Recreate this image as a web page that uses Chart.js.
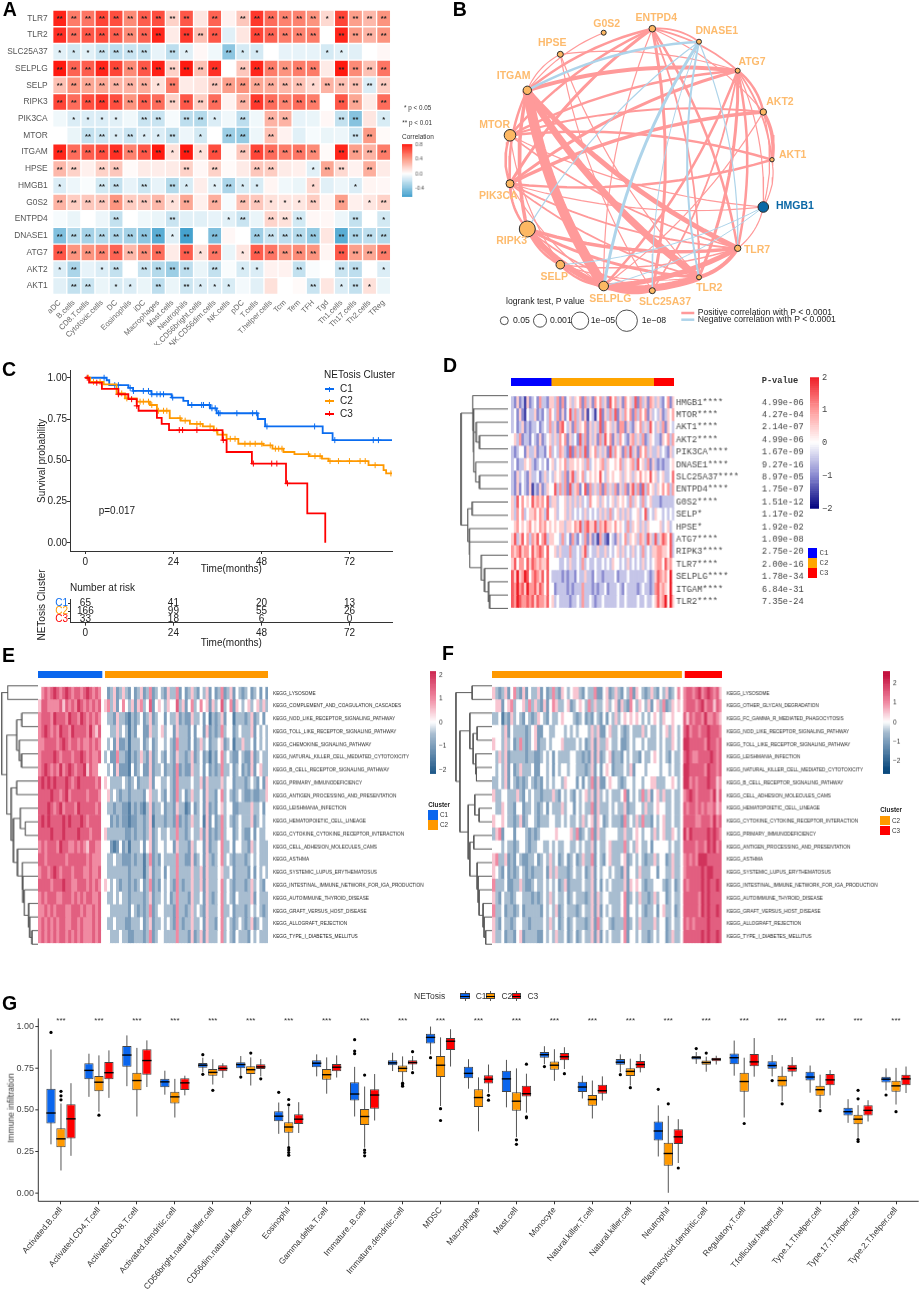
<!DOCTYPE html>
<html lang="en">
<head>
<meta charset="utf-8">
<script src="https://cdn.jsdelivr.net/npm/chart.js"></script>
<style>
  html, body { margin: 0; background: #fff; }
  #page { position: relative; width: 920px; height: 1293px; overflow: hidden; filter: blur(.3px); }
  #page canvas, #page div { position: absolute; }
  .t { white-space: nowrap; line-height: 1; font-family: "Liberation Sans", Arial, sans-serif; }
</style>
</head>
<body>
<div id="page"></div>
<script>
// Panel A: correlation values
const immuneCells = ['aDC','B.cells','CD8.T.cells','Cytotoxic.cells','DC','Eosinophils','iDC','Macrophages','Mast.cells','Neutrophils','NK.CD56bright.cells','NK.CD56dim.cells','NK.cells','pDC','T.cells','T.helper.cells','Tcm','Tem','TFH','Tgd','Th1.cells','Th17.cells','Th2.cells','TReg'];
const genesA = ['TLR7','TLR2','SLC25A37','SELPLG','SELP','RIPK3','PIK3CA','MTOR','ITGAM','HPSE','HMGB1','G0S2','ENTPD4','DNASE1','ATG7','AKT2','AKT1'];
const corrA = [
  [.78,.5,.52,.68,.65,.45,.6,.65,.18,.62,.1,.58,.05,.22,.72,.55,.48,.48,.42,.15,.68,.38,.28,.42],
  [.75,.55,.62,.65,.6,.45,.58,.78,.08,.72,.25,.62,-.1,.1,.68,.58,.5,.48,.5,0,.78,.4,.3,.42],
  [-.1,-.15,-.1,-.18,-.22,-.18,-.2,-.08,-.22,-.1,.03,-.05,-.38,-.14,-.14,0,-.08,-.08,-.08,-.14,-.1,-.1,0,.03],
  [.85,.58,.6,.78,.68,.45,.62,.8,.18,.82,.25,.75,0,.22,.78,.5,.42,.5,.5,.08,.82,.45,.25,.52],
  [.25,.42,.35,.35,.3,.3,.32,.12,.5,.08,.1,.22,.38,.42,.35,.32,.28,.25,.15,.3,.25,.25,-.12,.2],
  [.68,.55,.65,.72,.65,.42,.6,.55,.18,.62,.2,.55,.05,.3,.72,.55,.48,.55,.5,0,.62,.35,.08,.55],
  [-.05,-.12,-.12,-.12,-.1,-.05,-.18,-.18,-.03,-.22,-.25,-.12,-.05,-.22,-.05,.3,.3,-.08,-.07,.03,-.2,-.4,.1,-.13],
  [0,-.07,-.2,-.17,-.12,-.18,-.12,-.12,-.2,-.06,-.15,0,-.33,-.35,-.06,.25,.05,-.1,-.03,-.07,-.06,-.17,.4,.02],
  [.78,.55,.6,.65,.75,.48,.62,.82,.12,.88,.12,.65,.02,.22,.68,.55,.5,.52,.45,.02,.78,.38,.3,.5],
  [.28,.18,.06,.18,.22,.02,.08,.07,.08,.18,.03,.18,.02,.08,.22,.2,.08,.06,-.1,.35,.15,.05,.32,.08],
  [-.12,-.06,-.02,-.15,-.2,-.08,-.17,-.08,-.25,-.13,.07,-.1,-.28,-.13,-.13,.04,-.05,-.07,.15,-.1,-.06,-.12,.04,.03],
  [.3,.2,.22,.22,.42,.2,.22,.28,.12,.35,.06,.32,-.03,.25,.22,.12,.1,.1,.2,.04,.38,.06,.1,.18],
  [-.03,-.07,0,-.06,-.2,0,-.05,-.07,-.18,-.1,-.1,-.08,-.1,-.18,-.07,.17,.12,-.15,.03,.03,-.06,-.2,0,-.15],
  [-.42,-.25,-.3,-.25,-.28,-.3,-.38,-.55,-.1,-.62,0,-.42,.03,0,-.32,-.18,-.22,-.25,-.35,.1,-.55,-.28,-.22,-.25],
  [.62,.42,.42,.48,.58,.28,.45,.55,.08,.6,.12,.52,-.07,.1,.6,.52,.42,.45,.42,.04,.62,.38,.35,.5],
  [-.12,-.28,-.08,-.12,-.2,0,-.18,-.25,-.33,-.22,-.07,-.2,-.02,-.13,-.12,.05,.05,-.2,-.02,0,-.18,-.22,0,-.12],
  [-.1,-.2,-.18,-.07,-.13,-.12,-.07,-.22,-.07,-.17,-.12,-.12,-.13,-.04,-.1,.12,0,.02,-.18,.1,-.12,-.2,.12,-.07]
];
const starsA = ['222222222202022222212222','222222220222002222202222','111222202100211000011000','222222222222022222202222','222222212002222222122222','222222222222022222202202','011110220221020220002201','002212112010220200000220','222222221212022222202222','220220000202002200122020','100220202101211000100100','222222221202022111202012','000020002000120222000201','222222221202002222202222','222222220212012222202222','120120222202011002002201','022011020211100000201210'];

// Panel B: network, node positions and sizes (page pixels)
const nodeNames = ['G0S2','ENTPD4','DNASE1','ATG7','AKT2','AKT1','HMGB1','TLR7','TLR2','SLC25A37','SELPLG','SELP','RIPK3','PIK3CA','MTOR','ITGAM','HPSE'];
const nodeX = [603.7,652.3,699,737.7,763.3,772,763.3,737.7,699,652.3,603.7,560.3,527.3,510,510,527.3,560.3];
const nodeY = [32.7,28.7,41.7,70.7,112,159.7,207,248.3,277.3,290.7,286,264.7,229,183.7,135.3,90.3,54.3];
const nodeR = [2.5,3.3,2.5,2.5,3.2,2.2,5.3,3.2,2.5,3,4.8,4.3,8,4,5.8,4.2,3];
const nodeLabelX = [606.7,656.3,716.7,752,780,792.7,795,757,709.3,665,610.3,554.3,511.7,498.3,494.7,513.7,552.3];
const nodeLabelY = [27,21,34,65,105,158,209,253,291,305,302,280,244,199,128,79,46];
const posEdges = [['ITGAM','SELPLG',10],['ITGAM','TLR2',7],['ITGAM','TLR7',5],['RIPK3','SELPLG',6],['SELPLG','TLR2',7],['SELPLG','TLR7',5],['TLR2','TLR7',4],['RIPK3','TLR7',3.5],['RIPK3','TLR2',3],['ITGAM','RIPK3',3.5],['ITGAM','ATG7',4],['ITGAM','PIK3CA',2.5],['MTOR','PIK3CA',2.5],['PIK3CA','RIPK3',2.5],['PIK3CA','AKT2',3.5],['MTOR','AKT1',2.5],['MTOR','AKT2',2],['PIK3CA','ATG7',3],['PIK3CA','ENTPD4',3],['MTOR','ATG7',2.5],['MTOR','ENTPD4',2.5],['ITGAM','ENTPD4',2.5],['ITGAM','G0S2',1.2],['ITGAM','HPSE',1.2],['HPSE','ATG7',1.2],['HPSE','TLR2',1.2],['HPSE','SLC25A37',1.2],['ENTPD4','DNASE1',1.8],['ENTPD4','ATG7',1.8],['ENTPD4','AKT2',1.2],['ENTPD4','TLR7',2.5],['ENTPD4','SLC25A37',3],['ENTPD4','TLR2',1.8],['ENTPD4','SELPLG',1.2],['ATG7','AKT2',2.5],['ATG7','AKT1',1.8],['AKT2','AKT1',3.5],['AKT1','HMGB1',1.2],['AKT2','HMGB1',1.2],['ATG7','HMGB1',1.2],['ATG7','TLR7',2.5],['ATG7','TLR2',3],['ATG7','SELPLG',2.5],['ATG7','SLC25A37',1.8],['AKT2','SELPLG',1.2],['MTOR','HMGB1',1.2],['PIK3CA','HMGB1',1.2],['PIK3CA','AKT1',2.5],['MTOR','SELP',1.2],['MTOR','TLR7',1.8],['PIK3CA','TLR2',1.8],['PIK3CA','TLR7',1.8],['PIK3CA','SELPLG',1.2],['RIPK3','SELP',2.5],['SELP','SELPLG',2.5],['SELP','TLR7',1.5],['SELP','TLR2',1.2],['HMGB1','TLR7',1.2],['RIPK3','SLC25A37',1.8],['SELPLG','SLC25A37',2.5]];
const negEdges = [['ITGAM','DNASE1',2.5],['DNASE1','SELPLG',3,-1],['DNASE1','TLR2',2,-1],['DNASE1','TLR7',1.2],['DNASE1','RIPK3',1.2],['HMGB1','SELPLG',1],['HMGB1','SELP',1],['DNASE1','SLC25A37',1,-1]];
const logrankSizes = [4,6.5,8.7,10.7];
const logrankX = [504.3,540,580,626.7];
const logrankLabels = [['0.05',513],['0.001',550],['1e\u221205',590.7],['1e\u221208',641.7]];

// Panel C: survival steps, censor ticks and table at risk
const c1Time = [0,5.8,6.5,11.7,13,18,23.5,26.7,28,34,35.8,47,49,64.7,67.4,84];
const c1Surv = [1,.985,.955,.939,.92,.9,.88,.86,.835,.815,.785,.75,.705,.665,.622,.622];
const c2Time = [0,1.3,5,8.5,10.8,14,17.6,19.5,23,26,28.5,32,35,36,38.5,41.7,48.5,51,54,57,61,64.5,66.3,77.2,81.3,82,84];
const c2Surv = [1,.975,.96,.905,.875,.855,.835,.8,.755,.74,.72,.705,.68,.655,.63,.6,.59,.57,.55,.537,.525,.51,.495,.47,.44,.42,.42];
const c3Time = [0,1,4.5,9,11.7,14,14.5,19.5,20.8,22.8,37.4,38.5,45.4,54.7,60.5,65.4];
const c3Surv = [1,.97,.933,.9,.87,.83,.8,.757,.72,.683,.622,.55,.48,.36,.178,0];
const c1Censor = [5.1,8,9,12.2,13.1,15.8,17.2,18.1,19.5,20.4,21.3,23.8,29,31.7,32.2,33.8,34.5,35.4,36.3,36.7,41.3,45.6,46.7,49.5,62.5,68,78.5,79.9];
const c2Censor = [.8,2.2,4,9.9,11.3,14.9,15.8,17.2,18.1,19.9,21.3,22.2,25.8,27.2,30.4,31.3,34,35.8,37.6,39.5,40.8,43.5,44.9,46.3,48.1,50.4,51.8,52.7,53.6,60.8,62.6,64,66.7,69,72,74.9,76.3,79,83.3];
const c3Censor = [.5,3.1,9,12.6,14,25.6,26.5,30.4,37.6,45.8,50.8,52.2,55.1];
const riskTimes = [0,24,48,72];
const riskC1 = [65,41,20,13];
const riskC2 = [166,99,55,26];
const riskC3 = [33,18,6,0];
const clusters = ['C1','C2','C3'];

// Panel D. Stripe rows below are hand-estimated and coarser than the original
// sample columns: digit 0-8 stands for z-score -2..2, spaces only help counting.
const genesD = ['HMGB1****','MTOR****','AKT1****','AKT2****','PIK3CA****','DNASE1****','SLC25A37****','ENTPD4****','G0S2****','SELP*','HPSE*','ATG7****','RIPK3****','TLR7****','SELPLG****','ITGAM****','TLR2****'];
const pValuesD = ['4.99e-06','4.27e-04','2.14e-07','4.99e-06','1.67e-09','9.27e-16','8.97e-05','1.75e-07','1.51e-12','1.17e-02','1.92e-02','1.09e-08','2.75e-20','2.00e-16','1.78e-34','6.84e-31','7.35e-24'];
const rowsD = [
  '3252 3152 3426 3325 5362 6245 3546 2635 2646 3527 4635 2645 3726 3526 5 3532 4625',
  '3425 2143 3523 2436 4362 5247 3635 2514 3147 2536 3725 3646 2636 4625 3 4352 3546',
  '3423 5232 3342 3436 3526 7435 2635 4625 3537 2645 3526 6253 2546 3537 4 3536 2543',
  '4536 2332 4325 2345 3536 4625 3427 3625 3526 3746 2536 4325 6353 6235 4 3325 4636',
  '3234 4253 3523 3246 3436 5327 2636 3725 4635 3527 3645 2637 3526 4635 3 3534 3253',
  '3423 3545 3234 3424 5345 4635 5454 5363 4545 6354 4546 3545 6374 5362 5 3232 3345',
  '3253 4325 3342 3534 3545 3625 7354 6345 4547 4354 5445 3545 3546 4547 4 5345 3347',
  '3252 4325 1325 2354 4736 3627 3562 4726 3536 2635 3625 3625 7362 7364 5 3546 4636',
  '5374 6454 7565 6473 5534 4535 3535 3436 4453 5434 5354 5436 3543 6345 3 3323 3333',
  '5364 6345 5646 5374 4534 4535 3434 3534 3435 3536 3453 5353 4453 4734 3 5443 4343',
  '4564 5456 4546 5645 4545 5355 4657 3675 5736 5755 4645 4363 5453 5354 4 4453 4534',
  '5735 7463 6574 6735 5443 6342 6324 3625 2316 3214 3253 4635 4536 5375 3 7357 6473',
  '6567 5664 7567 6474 4535 3336 3343 5734 3353 3534 3453 5343 5343 6343 5 5665 5473',
  '5746 6475 7656 5574 4443 3435 3343 6343 3433 4343 5443 4353 4343 5343 4 5664 7564',
  '7585 6874 6765 7474 3333 2323 3243 3533 2433 2333 3423 3343 3333 3432 3 5765 6484',
  '7686 7586 6757 6474 4233 3323 2333 6333 2323 3423 3343 2433 3323 4332 3 6756 5484',
  '7687 6676 7576 6574 5343 3332 3343 6334 3233 4333 3343 3433 3343 3433 4 5756 8485'
];
const clusterSizesD = [65,166,33];
const treeD = [140,[105,0,[103,1,[102,[95,2,[85,3,4]],[96,5,[85,6,7]]]]],[120,[107,8,9],[115,10,[114,11,[80,12,[70,13,[58,14,[55,15,16]]]]]]]];

// Panel E
const pathwaysE = ['KEGG_LYSOSOME','KEGG_COMPLEMENT_AND_COAGULATION_CASCADES','KEGG_NOD_LIKE_RECEPTOR_SIGNALING_PATHWAY','KEGG_TOLL_LIKE_RECEPTOR_SIGNALING_PATHWAY','KEGG_CHEMOKINE_SIGNALING_PATHWAY','KEGG_NATURAL_KILLER_CELL_MEDIATED_CYTOTOXICITY','KEGG_B_CELL_RECEPTOR_SIGNALING_PATHWAY','KEGG_PRIMARY_IMMUNODEFICIENCY','KEGG_ANTIGEN_PROCESSING_AND_PRESENTATION','KEGG_LEISHMANIA_INFECTION','KEGG_HEMATOPOIETIC_CELL_LINEAGE','KEGG_CYTOKINE_CYTOKINE_RECEPTOR_INTERACTION','KEGG_CELL_ADHESION_MOLECULES_CAMS','KEGG_ASTHMA','KEGG_SYSTEMIC_LUPUS_ERYTHEMATOSUS','KEGG_INTESTINAL_IMMUNE_NETWORK_FOR_IGA_PRODUCTION','KEGG_AUTOIMMUNE_THYROID_DISEASE','KEGG_GRAFT_VERSUS_HOST_DISEASE','KEGG_ALLOGRAFT_REJECTION','KEGG_TYPE_I_DIABETES_MELLITUS'];
const rowsE = [
  '467 678 767 876 776 787 676|42352 35324 23523 62343 25336 24235 32435 24236 23524 32342 34242',
  '577 666 675 767 687 676 767|56352 46435 25634 72454 35447 35246 34645 25347 34625 43453 45353',
  '677 768 777 687 768 767 676|43325 33213 23423 52344 24335 23225 33424 13235 24413 33235 23424',
  '678 767 687 768 777 768 657|44335 34313 24422 53345 34425 33324 24425 23236 34423 43335 24343',
  '667 777 678 767 767 667 676|43425 22313 33423 42344 34326 33324 23534 23345 23413 35334 24343',
  '677 778 767 776 778 767 667|34226 33213 23532 52343 24325 33235 23423 13246 34322 43225 23433',
  '678 767 686 787 677 857 664|43425 22214 23422 52334 23326 23225 33424 23236 33423 42325 24533',
  '787 878 777 876 787 777 767|54333 34323 42333 52443 34326 33334 33525 33335 34423 33234 32425',
  '777 787 767 867 777 767 776|45343 23323 33324 53343 24326 34235 33425 33246 34323 43223 22335',
  '777 876 786 777 687 777 767|43323 32213 23213 52334 23325 33124 23425 23245 34422 33335 33424',
  '787 877 778 787 778 767 777|44232 32212 23323 51333 23326 23235 33415 24236 34323 43335 23434',
  '777 787 778 777 787 776 777|53333 33223 23323 52343 34336 33234 33525 23236 34423 43224 24334',
  '676 777 687 766 767 657 766|44212 42313 33424 52344 34425 33325 34425 23346 33424 43325 34333',
  '776 777 777 677 777 767 666|43343 32223 23313 62324 33336 33225 23425 32346 34323 33234 34333',
  '677 678 767 776 777 667 667|43333 33323 33313 52334 24336 33335 33525 33345 33423 33324 24343',
  '777 767 778 776 677 767 676|54343 23323 23423 62324 34326 32335 33525 33346 34323 33235 34324',
  '676 777 667 776 767 677 667|43343 43323 33323 52334 34236 33325 33425 32346 34324 33335 24333',
  '667 676 777 667 776 766 767|44333 33324 32323 62344 33326 33235 34325 33346 33423 33234 34323',
  '676 767 677 667 767 666 767|43343 33223 33423 52334 34326 32335 33425 33246 34323 43235 23433',
  '676 767 677 676 767 666 767|44333 43322 33323 62344 33336 33325 23525 33346 34324 33324 34333'
];
const clusterSizesE = [65,166];
const treeE = [108,[90,0,1],[93,[63,[48,2,3],[56,4,[49,5,6]]],[80,[63,7,8],[73,[53,9,[38,10,11]],[61,12,[47,13,[45,14,[41,15,[28,16,[25,17,[18,18,19]]]]]]]]]]];

// Panel F
const pathwaysF = ['KEGG_LYSOSOME','KEGG_OTHER_GLYCAN_DEGRADATION','KEGG_FC_GAMMA_R_MEDIATED_PHAGOCYTOSIS','KEGG_NOD_LIKE_RECEPTOR_SIGNALING_PATHWAY','KEGG_TOLL_LIKE_RECEPTOR_SIGNALING_PATHWAY','KEGG_LEISHMANIA_INFECTION','KEGG_NATURAL_KILLER_CELL_MEDIATED_CYTOTOXICITY','KEGG_B_CELL_RECEPTOR_SIGNALING_PATHWAY','KEGG_CELL_ADHESION_MOLECULES_CAMS','KEGG_HEMATOPOIETIC_CELL_LINEAGE','KEGG_CYTOKINE_CYTOKINE_RECEPTOR_INTERACTION','KEGG_PRIMARY_IMMUNODEFICIENCY','KEGG_ANTIGEN_PROCESSING_AND_PRESENTATION','KEGG_ASTHMA','KEGG_SYSTEMIC_LUPUS_ERYTHEMATOSUS','KEGG_INTESTINAL_IMMUNE_NETWORK_FOR_IGA_PRODUCTION','KEGG_AUTOIMMUNE_THYROID_DISEASE','KEGG_GRAFT_VERSUS_HOST_DISEASE','KEGG_ALLOGRAFT_REJECTION','KEGG_TYPE_I_DIABETES_MELLITUS'];
const rowsF = [
  '532352463 252433524 236325434 553243362 245235324 362543235 324352346|6776 7867 87675',
  '455245634 453635325 246533452 345436353 345345253 264354352 453623545|6777 6786 77576',
  '334132534 324323543 243345444 323423243 242435345 454543434 543544544|7576 7768 66765',
  '444352433 332345224 433444343 434443535 224533432 343335343 343453543|7867 7677 87776',
  '544353423 632345233 434445333 343423525 335433422 343443433 343433543|8877 7776 87767',
  '435352333 332332234 342433334 433232525 234523324 343324334 543432433|7876 6777 78767',
  '434352423 533342244 342434434 433323524 245423334 352444344 443443433|8877 7776 87767',
  '334352432 323432324 343443544 424243625 224544323 443443445 533344543|8867 6777 87756',
  '533443335 324343323 335324343 243453525 343433346 243436352 453533433|6787 6777 76857',
  '433543324 423343234 243335344 243433625 333434335 233443533 454433433|7677 6767 66756',
  '544543323 523443233 344334343 343534525 423433326 343536332 434533433|7777 6677 76867',
  '356244424 443232344 444544445 362343625 334444335 334543443 534533543|8687 7777 87876',
  '444343323 443233443 343433443 343433524 334533336 343543342 444443433|7777 6776 87867',
  '563352324 322334234 353423423 423533624 324533345 234343233 534423533|6767 6888 77777',
  '543242323 432323334 253533323 433423524 344343325 244353334 424433533|6777 7787 88777',
  '633342233 532234334 343423523 333433524 243433335 254543233 444323423|7677 7787 87787',
  '532433234 433323234 353433423 433323525 344333346 234353323 534423433|7777 7687 87777',
  '633423323 423333324 343523433 323433525 243433346 244343233 424533423|7777 7687 87787',
  '532433234 433233334 353423423 433323526 344323336 234353333 534423433|7676 7777 87777',
  '533423324 523333224 343533423 423433525 243433346 244343323 434423533|7777 7787 87787'
];
const clusterSizesF = [166,33];
const treeF = [109,[60,0,1],[97,[67,2,[57,[45,3,4],[49,5,[47,6,7]]]],[72,[52,8,[39,9,10]],[67,[55,11,12],[45,13,[42,14,[39,15,[27,16,[24,17,[19,18,19]]]]]]]]]];

// Panel G: boxes as [low whisker, q1, median, q3, high whisker]
const immuneSets = ['Activated.B.cell','Activated.CD4.T.cell','Activated.CD8.T.cell','Activated.dendritic.cell','CD56bright.natural.killer.cell','CD56dim.natural.killer.cell','Eosinophil','Gamma.delta.T.cell','Immature..B.cell','Immature.dendritic.cell','MDSC','Macrophage','Mast.cell','Monocyte','Natural.killer.T.cell','Natural.killer.cell','Neutrophil','Plasmacytoid.dendritic.cell','Regulatory.T.cell','T.follicular.helper.cell','Type.1.T.helper.cell','Type.17.T.helper.cell','Type.2.T.helper.cell'];
const boxC1 = [[.293,.418,.481,.627,.862],[.578,.684,.737,.78,.837],[.642,.758,.829,.884,.947],[.591,.635,.668,.686,.735],[.725,.752,.768,.782,.813],[.705,.75,.772,.786,.823],[.356,.432,.462,.491,.544],[.701,.756,.78,.798,.833],[.46,.556,.595,.666,.758],[.733,.768,.782,.798,.843],[.833,.898,.935,.957,1],[.627,.69,.719,.758,.804],[.515,.607,.686,.735,.8],[.774,.813,.831,.847,.882],[.568,.607,.637,.668,.705],[.725,.77,.786,.805,.833],[.22,.316,.373,.43,.527],[.776,.802,.813,.823,.847],[.705,.774,.813,.839,.916],[.701,.747,.766,.792,.829],[.603,.676,.697,.729,.766],[.422,.466,.489,.513,.564],[.617,.664,.684,.699,.749]];
const boxC2 = [[.136,.275,.326,.389,.538],[.489,.611,.666,.703,.827],[.46,.617,.676,.723,.872],[.454,.538,.578,.609,.686],[.652,.705,.725,.745,.804],[.646,.715,.741,.762,.815],[.283,.363,.397,.426,.519],[.597,.68,.711,.745,.815],[.273,.409,.46,.505,.64],[.67,.725,.749,.766,.821],[.523,.697,.768,.823,.935],[.371,.517,.574,.623,.695],[.336,.495,.552,.605,.749],[.674,.741,.768,.79,.864],[.448,.525,.562,.589,.676],[.646,.703,.731,.75,.807],[.002,.165,.238,.303,.464],[.729,.77,.784,.796,.819],[.454,.609,.67,.723,.813],[.552,.64,.676,.705,.76],[.509,.585,.621,.644,.711],[.332,.413,.444,.47,.528],[.532,.609,.644,.674,.752]];
const boxC3 = [[.224,.328,.446,.534,.66],[.572,.684,.723,.788,.857],[.637,.711,.796,.864,.917],[.587,.619,.662,.69,.705],[.692,.731,.749,.768,.78],[.701,.745,.758,.774,.805],[.361,.415,.444,.473,.546],[.694,.731,.756,.776,.827],[.436,.507,.589,.623,.715],[.739,.772,.784,.798,.823],[.76,.859,.912,.931,.984],[.603,.658,.684,.707,.772],[.483,.58,.597,.644,.717],[.745,.798,.819,.841,.876],[.556,.597,.615,.65,.701],[.725,.75,.772,.794,.835],[.181,.295,.338,.383,.444],[.772,.792,.804,.813,.825],[.699,.762,.788,.835,.931],[.701,.729,.749,.77,.817],[.587,.648,.68,.715,.739],[.43,.466,.497,.527,.558],[.601,.648,.686,.711,.76]];
const outC1 = [[.965],[],[],[],[.831,.713],[.697],[.605],[],[.921,.853,.837],[],[.813],[],[],[.76],[],[.711],[.623],[.868],[],[.676],[],[],[.589]];
const outC2 = [[.611,.584,.56],[.468],[],[],[.617],[.841],[.562,.53,.273,.259,.244,.228],[],[.709,.259,.244,.224],[.66,.65,.642],[.507,.436],[],[.32,.293],[],[],[.633],[.536],[.841],[.418],[.536],[.495],[.617,.566,.322,.31],[.489]];
const outC3 = [[],[],[],[],[],[.686],[],[],[],[.849,.723],[],[.587,.558],[.774,.458,.452],[.717],[],[],[.151],[],[],[],[],[],[]];

// ---------- helpers ----------
const FONT = '"Liberation Sans", Arial, sans-serif';
const MONO = '"Liberation Mono", monospace';
Chart.defaults.animation = false;
Chart.defaults.responsive = false;
Chart.defaults.font.family = FONT;
Chart.defaults.layout.autoPadding = false;
Chart.defaults.plugins.legend.display = false;
Chart.defaults.plugins.tooltip.enabled = false;

const page = document.getElementById('page');

function mk(left, top, w, h) {
  const c = document.createElement('canvas');
  c.width = w; c.height = h;
  c.style.left = left + 'px'; c.style.top = top + 'px';
  c.style.width = w + 'px'; c.style.height = h + 'px';
  page.appendChild(c);
  return c.getContext('2d');
}
function txt(s, x, y, size, o) {
  o = o || {};
  const d = document.createElement('div');
  d.className = 't';
  d.textContent = s;
  d.style.left = x + 'px';
  d.style.top = (y - size * 0.85) + 'px';
  d.style.fontSize = size + 'px';
  d.style.color = o.color || '#333';
  if (o.bold) d.style.fontWeight = 'bold';
  if (o.font) d.style.fontFamily = o.font;
  if (o.center) d.style.transform = 'translateX(-50%)';
  if (o.vertical) d.style.transform = 'translate(-50%,-50%) rotate(-90deg)', d.style.top = y + 'px';
  page.appendChild(d);
}
function box(x, y, w, h, color) {
  const d = document.createElement('div');
  d.style.cssText = 'left:' + x + 'px;top:' + y + 'px;width:' + w + 'px;height:' + h + 'px;background:' + color;
  page.appendChild(d);
  return d;
}
function hex(c) { return [parseInt(c.slice(1,3),16), parseInt(c.slice(3,5),16), parseInt(c.slice(5,7),16)]; }
function ramp(stops) {
  return function (v) {
    if (v <= stops[0][0]) return stops[0][1];
    for (let i = 1; i < stops.length; i++) {
      if (v <= stops[i][0]) {
        const t = (v - stops[i-1][0]) / (stops[i][0] - stops[i-1][0]);
        const a = hex(stops[i-1][1]), b = hex(stops[i][1]);
        return 'rgb(' + a.map((x, k) => Math.round(x + (b[k] - x) * t)).join(',') + ')';
      }
    }
    return stops[stops.length-1][1];
  };
}
const rampA = ramp([[-.62,'#45A2CE'],[0,'#ffffff'],[.4,'#FC9A85'],[.82,'#FF1A10']]);
const rampD = ramp([[-2,'#00007F'],[-1,'#8A8AD0'],[0,'#ffffff'],[1,'#FF9A9A'],[2,'#EE1C25']]);
const rampE = ramp([[-2.4,'#0B4A7E'],[-1,'#7C9DBB'],[-.5,'#A8BDD0'],[0,'#ffffff'],[1,'#F08AA2'],[1.5,'#E25F80'],[2.4,'#C4123F']]);

function fixedTicks(vals) { return s => { s.ticks = vals.map(v => ({ value: v })); }; }
function parseRow(r) {
  return r.replace(/ /g, '').split('').map(ch => ch === '|' ? null : (+ch - 4) / 2);
}
const noGrid = { display: false, drawTicks: false };

// heat map: stacked horizontal bars, one dataset per column
function heat(o) {
  const m = o.matrix;
  const ncol = m[0].length;
  const datasets = [];
  for (let j = 0; j < ncol; j++) {
    datasets.push({
      data: m.map(() => 1),
      backgroundColor: m.map(r => r[j] === null || r[j] === undefined ? '#fff' : o.color(r[j])),
      borderColor: '#fff',
      borderWidth: o.cellBorder || 0,
      borderSkipped: false,
      categoryPercentage: 1,
      barPercentage: 1
    });
  }
  const scales = {
    x: Object.assign({ stacked: true, min: 0, max: ncol, display: false }, o.x || {}),
    y: Object.assign({
      stacked: true,
      position: 'right',
      grid: noGrid,
      border: { display: false },
      afterFit: s => { s.width = o.yWidth; },
      ticks: { autoSkip: false, padding: 2, font: o.font, color: o.tickColor || '#222' }
    }, o.y || {})
  };
  if (o.y2) scales.y2 = o.y2;
  return new Chart(mk(o.left, o.top, o.w, o.h), {
    type: 'bar',
    data: { labels: o.labels, datasets: datasets },
    options: { indexAxis: 'y', layout: { padding: o.padding || 0 }, scales: scales },
    plugins: o.plugins || []
  });
}

// dendrogram: tree node = [height, child, child], a leaf is a row index
function dendro(left, top, w, h, tree, nrow, maxH) {
  const sets = [];
  (function walk(n) {
    if (typeof n === 'number') return { y: n, h: 0 };
    const a = walk(n[1]), b = walk(n[2]);
    sets.push({
      data: [{ x: a.h, y: a.y }, { x: n[0], y: a.y }, { x: n[0], y: b.y }, { x: b.h, y: b.y }],
      showLine: true, borderColor: '#5a5a5a', borderWidth: 1, pointRadius: 0
    });
    return { y: (a.y + b.y) / 2, h: n[0] };
  })(tree);
  new Chart(mk(left, top, w, h), {
    type: 'scatter',
    data: { datasets: sets },
    options: { scales: {
      x: { display: false, reverse: true, min: 0, max: maxH },
      y: { display: false, reverse: true, min: -.5, max: nrow - .5 }
    } }
  });
}

// annotation strip above a heat map
function annoBar(left, top, w, h, sizes, colors, gap) {
  const sets = [];
  sizes.forEach((s, i) => {
    if (i && gap) sets.push({ data: [gap], backgroundColor: '#fff', categoryPercentage: 1, barPercentage: 1 });
    sets.push({ data: [s], backgroundColor: colors[i], categoryPercentage: 1, barPercentage: 1 });
  });
  const total = sizes.reduce((a, b) => a + b, 0) + (gap ? gap * (sizes.length - 1) : 0);
  new Chart(mk(left, top, w, h), {
    type: 'bar',
    data: { labels: [''], datasets: sets },
    options: { indexAxis: 'y', scales: {
      x: { stacked: true, display: false, min: 0, max: total },
      y: { stacked: true, display: false }
    } }
  });
}

// vertical colour key with a real axis on its right
function colorBar(left, top, w, h, lo, hi, ticks, color, font, fg, fmt) {
  const sets = [];
  const n = 60, st = (hi - lo) / n;
  for (let i = 0; i < n; i++) {
    sets.push({ data: [[lo + i * st, lo + (i + 1) * st]], backgroundColor: color(lo + (i + .5) * st), categoryPercentage: 1, barPercentage: 1 });
  }
  new Chart(mk(left, top - 8, w + 30, h + 16), {
    type: 'bar',
    data: { labels: [''], datasets: sets },
    options: {
      layout: { padding: { top: 8, bottom: 8 } },
      scales: {
        x: { stacked: true, display: false },
        y: {
          position: 'right', min: lo, max: hi,
          grid: noGrid, border: { display: false },
          afterBuildTicks: fixedTicks(ticks),
          afterFit: s => { s.width = 30; },
          ticks: { padding: 3, font: font, color: fg, callback: fmt }
        }
      }
    }
  });
}
const minusFmt = v => v < 0 ? '\u2212' + (-v) : '' + v;

// ---------- panel letters ----------
[['A',2.7,17],['B',452.7,17],['C',2,377],['D',443,373],['E',2,662.7],['F',442,660.7],['G',2,1010.7]].forEach(p => {
  txt(p[0], p[1], p[2], 19.5, { bold: true, color: '#000' });
});

// ---------- A ----------
const starsPlugin = {
  id: 'stars',
  afterDatasetsDraw(chart) {
    const ctx = chart.ctx;
    ctx.save();
    ctx.font = 'bold 7.5px ' + FONT;
    ctx.fillStyle = '#222';
    ctx.textAlign = 'center';
    ctx.textBaseline = 'middle';
    chart.data.datasets.forEach((ds, j) => {
      chart.getDatasetMeta(j).data.forEach((bar, i) => {
        const n = +starsA[i][j];
        if (n) ctx.fillText('*'.repeat(n), (bar.base + bar.x) / 2, bar.y + 1);
      });
    });
    ctx.restore();
  }
};
heat({
  left: 0, top: 0, w: 396, h: 345,
  matrix: corrA, color: rampA, labels: genesA, cellBorder: 1,
  yWidth: 52.7,
  padding: { top: 8.3, right: 5.3 },
  font: { size: 8.4 }, tickColor: '#555',
  x: {
    display: true,
    grid: noGrid, border: { display: false },
    afterBuildTicks: fixedTicks(immuneCells.map((c, i) => i + .5)),
    afterFit: s => { s.height = 50.7; },
    ticks: { autoSkip: false, minRotation: 45, maxRotation: 45, padding: 4, font: { size: 7.7 }, color: '#666', callback: v => immuneCells[v - .5] }
  },
  y: { position: 'left', ticks: { autoSkip: false, padding: 5, font: { size: 8.4 }, color: '#555' } },
  plugins: [starsPlugin]
});
txt('* p < 0.05', 404, 110.7, 6.3);
txt('** p < 0.01', 402.3, 125, 6.3);
txt('Correlation', 402, 139.7, 6.5);
colorBar(402.3, 144.3, 10.7, 52.7, -.62, .81, [-.4, 0, .4, .8], rampA, { size: 5 }, '#444', v => v.toFixed(1));

// ---------- B ----------
const cx = 641, cy = 160;
function edgePoints(a, b, flip) {
  const i = nodeNames.indexOf(a), j = nodeNames.indexOf(b);
  const x1 = nodeX[i], y1 = nodeY[i], x2 = nodeX[j], y2 = nodeY[j];
  const len = Math.hypot(x2 - x1, y2 - y1);
  let nx = -(y2 - y1) / len, ny = (x2 - x1) / len;
  const mx = (x1 + x2) / 2, my = (y1 + y2) / 2;
  if ((mx - cx) * nx + (my - cy) * ny < 0) { nx = -nx; ny = -ny; }
  if (flip) { nx = -nx; ny = -ny; }
  const off = 2 * (.04 * len + 2.5);
  const pts = [];
  for (let k = 0; k <= 14; k++) {
    const t = k / 14, u = 1 - t;
    pts.push({
      x: u * u * x1 + 2 * u * t * (mx + nx * off) + t * t * x2,
      y: u * u * y1 + 2 * u * t * (my + ny * off) + t * t * y2
    });
  }
  return pts;
}
const netSets = [{
  data: nodeX.map((x, i) => ({ x: x, y: nodeY[i] })),
  pointRadius: nodeR,
  backgroundColor: nodeNames.map(n => n === 'HMGB1' ? '#0A68A6' : '#FDB863'),
  borderColor: '#2a2a2a', borderWidth: 1
}, {
  data: logrankX.map(x => ({ x: x, y: 320.7 })),
  pointRadius: logrankSizes,
  backgroundColor: '#fff', borderColor: '#222', borderWidth: .8
}, {
  data: [{ x: 681.3, y: 313 }, { x: 694.3, y: 313 }], showLine: true, pointRadius: 0, borderColor: '#FF9A9A', borderWidth: 2.5
}, {
  data: [{ x: 681.3, y: 319.7 }, { x: 694.3, y: 319.7 }], showLine: true, pointRadius: 0, borderColor: '#AED4EA', borderWidth: 2.5
}];
negEdges.forEach(e => netSets.push({ data: edgePoints(e[0], e[1], e[3] === -1), showLine: true, pointRadius: 0, borderColor: '#AED4EA', borderWidth: e[2] }));
posEdges.forEach(e => netSets.push({ data: edgePoints(e[0], e[1], e[3] === -1), showLine: true, pointRadius: 0, borderColor: '#FF9A9A', borderWidth: e[2] }));
new Chart(mk(450, 0, 470, 340), {
  type: 'scatter',
  data: { datasets: netSets },
  options: { scales: {
    x: { display: false, min: 450, max: 920 },
    y: { display: false, min: 0, max: 340, reverse: true }
  } }
});
nodeNames.forEach((n, i) => {
  txt(n, nodeLabelX[i], nodeLabelY[i], 10.5, { bold: true, center: true, color: n === 'HMGB1' ? '#0A68A6' : '#FDBB6E' });
});
txt('logrank test, P value', 506, 304.3, 8.7, { color: '#222' });
logrankLabels.forEach(l => txt(l[0], l[1], 323.3, 8.7, { color: '#222' }));
txt('Positive correlation with P < 0.0001', 697.7, 315, 8.6, { color: '#222' });
txt('Negative correlation with P < 0.0001', 697.7, 322, 8.6, { color: '#222' });

// ---------- C ----------
const kmColors = ['#0A6CF0', '#FF9900', '#FF0000'];
function survAt(times, surv, t) {
  let s = surv[0];
  for (let i = 0; i < times.length; i++) { if (times[i] <= t) s = surv[i]; }
  return s;
}
function kmLine(times, surv, color) {
  return { data: times.map((t, i) => ({ x: t, y: surv[i] })), showLine: true, stepped: true, borderColor: color, borderWidth: 1.8, pointRadius: 0 };
}
function kmMarks(times, surv, censor, color) {
  return { data: censor.map(t => ({ x: t, y: survAt(times, surv, t) })), pointStyle: 'cross', pointRadius: 3, borderColor: color, borderWidth: 1 };
}
const kmAxis = {
  min: -4.2, max: 83.6,
  grid: { drawOnChartArea: false, tickLength: 3, color: '#333' },
  border: { color: '#333' },
  afterBuildTicks: fixedTicks(riskTimes),
  ticks: { padding: 2, font: { size: 10 }, color: '#222' }
};
new Chart(mk(0, 360, 400, 230), {
  type: 'scatter',
  data: { datasets: [
    kmMarks(c3Time, c3Surv, c3Censor, kmColors[2]), kmLine(c3Time, c3Surv, kmColors[2]),
    kmMarks(c2Time, c2Surv, c2Censor, kmColors[1]), kmLine(c2Time, c2Surv, kmColors[1]),
    kmMarks(c1Time, c1Surv, c1Censor, kmColors[0]), kmLine(c1Time, c1Surv, kmColors[0])
  ] },
  options: {
    layout: { padding: { top: 10, right: 8 } },
    scales: {
      x: Object.assign({}, kmAxis, { afterFit: s => { s.height = 39; } }),
      y: {
        min: -.05, max: 1.047,
        grid: { drawOnChartArea: false, tickLength: 3, color: '#333' },
        border: { color: '#333' },
        afterBuildTicks: fixedTicks([0, .25, .5, .75, 1]),
        afterFit: s => { s.width = 70; },
        ticks: { padding: 0, font: { size: 10 }, color: '#222', callback: v => v.toFixed(2) }
      }
    }
  }
});
txt('Survival probability', 41.7, 460.7, 10, { vertical: true, color: '#222' });
txt('Time(months)', 231.3, 572.3, 10, { center: true, color: '#222' });
txt('p=0.017', 98.7, 514.3, 10, { color: '#222' });
txt('NETosis Cluster', 324, 378.3, 10, { color: '#222' });
kmColors.forEach((c, i) => {
  const y = 389 + i * 12.4;
  box(325, y - 1, 9.3, 2, c);
  box(329, y - 2.5, 1.2, 5, c);
  txt(clusters[i], 340, y + 3.5, 10, { color: '#222' });
});
// number at risk table
const riskPlugin = {
  id: 'risk',
  afterDatasetsDraw(chart) {
    const ctx = chart.ctx;
    ctx.save();
    ctx.font = '10px ' + FONT;
    ctx.fillStyle = '#222';
    ctx.textAlign = 'center';
    ctx.textBaseline = 'middle';
    [riskC1, riskC2, riskC3].forEach((vals, k) => {
      chart.getDatasetMeta(k).data.forEach((pt, i) => ctx.fillText(vals[i], pt.x, pt.y));
    });
    ctx.restore();
  }
};
new Chart(mk(0, 592, 400, 44), {
  type: 'scatter',
  data: { datasets: [riskC1, riskC2, riskC3].map((vals, k) => ({
    data: riskTimes.map(t => ({ x: t, y: clusters[k] })), pointRadius: 0
  })) },
  options: {
    layout: { padding: { top: 7.4, right: 8 } },
    scales: {
      x: Object.assign({}, kmAxis, { afterFit: s => { s.height = 13.3; } }),
      y: {
        type: 'category', labels: clusters, offset: true,
        grid: { drawOnChartArea: false, tickLength: 2, color: '#333', offset: false },
        border: { color: '#333' },
        afterFit: s => { s.width = 70; },
        ticks: { autoSkip: false, padding: 0, font: { size: 10 }, color: c => kmColors[c.index] }
      }
    }
  },
  plugins: [riskPlugin]
});
txt('NETosis Cluster', 41.7, 605, 10, { vertical: true, color: '#222' });
txt('Number at risk', 70, 591.7, 10, { color: '#222' });
txt('Time(months)', 231.3, 646, 10, { center: true, color: '#222' });

// ---------- D ----------
const monoTick = { size: 8.7, family: MONO };
annoBar(511, 378, 163.3, 8.3, clusterSizesD, ['#0000FF', '#FFA500', '#FF0000']);
dendro(459, 389.3, 48.7, 225.7, treeD, 17, 146);
heat({
  left: 511, top: 389.3, w: 163.3 + 85.4 + 60, h: 225.7,
  matrix: rowsD.map(parseRow), color: rampD, labels: genesD,
  yWidth: 85.4, font: monoTick, tickColor: '#444',
  y: { weight: 0 },
  y2: {
    type: 'category', labels: pValuesD, position: 'right', offset: true, weight: 1,
    grid: noGrid, border: { display: false },
    afterFit: s => { s.width = 60; },
    ticks: { autoSkip: false, padding: 2, font: monoTick, color: '#444' }
  }
});
txt('P-value', 761.7, 384.7, 8.7, { bold: true, font: MONO, color: '#333' });
colorBar(810, 376.7, 9.3, 132.6, -2, 2, [-2, -1, 0, 1, 2], rampD, { size: 8.7, family: MONO }, '#444', minusFmt);
['#0000FF', '#FFA500', '#FF0000'].forEach((c, i) => {
  box(807.7, 548.3 + i * 10, 9.6, 10, c);
  txt(clusters[i], 819.5, 556.5 + i * 10, 7.5, { font: MONO, color: '#444' });
});

// ---------- E ----------
const keggFont = { size: 4.75 };
annoBar(37.7, 670.7, 230.3, 7, clusterSizesE, ['#0A66EE', '#FF9900'], 2.7);
dendro(0, 679.3, 37.7, 271.4, treeE, 20, 113);
heat({
  left: 37.7, top: 679.3, w: 230.3 + 165, h: 271.4,
  matrix: rowsE.map(parseRow), color: rampE, labels: pathwaysE,
  yWidth: 165, font: keggFont, tickColor: '#222',
  y: { ticks: { autoSkip: false, padding: 5, font: keggFont, color: '#222' } }
});
colorBar(429.7, 671.3, 6.6, 102.7, -2.17, 2.17, [-2, -1, 0, 1, 2], rampE, { size: 6.5 }, '#333', minusFmt);
txt('Cluster', 428.3, 807, 6.3, { bold: true, color: '#222' });
box(428.3, 810, 10, 9.8, '#0A66EE');
box(428.3, 819.8, 10, 9.8, '#FF9900');
txt('C1', 440, 817.5, 6.3);
txt('C2', 440, 827.3, 6.3);

// ---------- F ----------
annoBar(492.3, 670.7, 229.7, 7, clusterSizesF, ['#FF9900', '#FF0000'], 2.4);
dendro(450, 679.3, 42.3, 271.4, treeF, 20, 127);
heat({
  left: 492.3, top: 679.3, w: 229.7 + 165, h: 271.4,
  matrix: rowsF.map(parseRow), color: rampE, labels: pathwaysF,
  yWidth: 165, font: keggFont, tickColor: '#222',
  y: { ticks: { autoSkip: false, padding: 5, font: keggFont, color: '#222' } }
});
colorBar(883.3, 671, 7, 102.7, -2.64, 2.63, [-2, -1, 0, 1, 2], rampE, { size: 6.5 }, '#333', minusFmt);
txt('Cluster', 880.3, 812.7, 6.3, { bold: true, color: '#222' });
box(880.3, 815.7, 9.7, 9.8, '#FF9900');
box(880.3, 825.5, 9.7, 9.8, '#FF0000');
txt('C2', 892, 823.3, 6.3);
txt('C3', 892, 833, 6.3);

// ---------- G ----------
const boxColors = ['#0A66EE', '#FF9900', '#FF0000'];
const boxData = [boxC1, boxC2, boxC3];
const outData = [outC1, outC2, outC3];
const boxPlugin = {
  id: 'boxes',
  beforeDatasetsDraw(chart) {
    const ctx = chart.ctx, y = chart.scales.y;
    ctx.save();
    ctx.strokeStyle = '#555';
    ctx.lineWidth = 1;
    boxData.forEach((set, k) => {
      chart.getDatasetMeta(k).data.forEach((bar, i) => {
        ctx.beginPath();
        ctx.moveTo(bar.x, y.getPixelForValue(set[i][0]));
        ctx.lineTo(bar.x, y.getPixelForValue(set[i][4]));
        ctx.stroke();
      });
    });
    ctx.restore();
  },
  afterDatasetsDraw(chart) {
    const ctx = chart.ctx, y = chart.scales.y, x = chart.scales.x, a = chart.chartArea;
    ctx.save();
    boxData.forEach((set, k) => {
      chart.getDatasetMeta(k).data.forEach((bar, i) => {
        const m = y.getPixelForValue(set[i][2]);
        ctx.strokeStyle = '#000';
        ctx.lineWidth = 1.4;
        ctx.beginPath();
        ctx.moveTo(bar.x - bar.width / 2, m);
        ctx.lineTo(bar.x + bar.width / 2, m);
        ctx.stroke();
        ctx.fillStyle = '#000';
        outData[k][i].forEach(v => {
          ctx.beginPath();
          ctx.arc(bar.x, y.getPixelForValue(v), 1.6, 0, Math.PI * 2);
          ctx.fill();
        });
      });
    });
    // significance marks above each group
    ctx.font = '8px ' + FONT;
    ctx.fillStyle = '#333';
    ctx.textAlign = 'center';
    ctx.textBaseline = 'middle';
    immuneSets.forEach((n, i) => ctx.fillText('***', x.getPixelForValue(i), y.getPixelForValue(1.035)));
    // ggplot style axes run a little past the outer categories
    const ax = a.left - 3.7;
    ctx.strokeStyle = '#333';
    ctx.lineWidth = 1;
    ctx.beginPath();
    ctx.moveTo(ax, a.top);
    ctx.lineTo(ax, a.bottom);
    ctx.lineTo(a.right + 3.7, a.bottom);
    [0, .25, .5, .75, 1].forEach(v => {
      const py = y.getPixelForValue(v);
      ctx.moveTo(ax - 3, py);
      ctx.lineTo(ax, py);
    });
    ctx.stroke();
    ctx.restore();
  }
};
new Chart(mk(0, 1005, 920, 288), {
  type: 'bar',
  data: {
    labels: immuneSets,
    datasets: boxData.map((set, k) => ({
      data: set.map(b => [b[1], b[3]]),
      backgroundColor: boxColors[k],
      borderColor: '#444',
      borderWidth: 1,
      borderSkipped: false,
      categoryPercentage: .79,
      barPercentage: .93
    }))
  },
  options: {
    layout: { padding: { top: 10, right: 5 } },
    scales: {
      x: {
        grid: { drawOnChartArea: false, offset: false, tickLength: 3, color: '#333' },
        border: { display: false },
        afterFit: s => { s.height = 91.7; },
        ticks: { autoSkip: false, minRotation: 50, maxRotation: 50, padding: 1, font: { size: 8.4 }, color: '#333' }
      },
      y: {
        min: -.049, max: 1.049,
        grid: noGrid,
        border: { display: false },
        afterBuildTicks: fixedTicks([0, .25, .5, .75, 1]),
        afterFit: s => { s.width = 42; },
        ticks: { padding: 8, font: { size: 9 }, color: '#444', callback: v => v.toFixed(2) }
      }
    }
  },
  plugins: [boxPlugin]
});
txt('Immune infiltration', 11.3, 1107.7, 8.5, { vertical: true });
txt('NETosis', 414, 999, 8.5);
[465, 490.7, 516.7].forEach((x, i) => {
  box(x - .5, 991, 1, 9.5, '#555');
  const d = box(x - 4.6, 992.7, 9.3, 6.6, boxColors[i]);
  d.style.boxSizing = 'border-box';
  d.style.border = '1px solid #444';
  box(x - 4.6, 995.5, 9.3, 1.2, '#000');
  txt(clusters[i], x + 10.7, 999, 8.5);
});
</script>
</body>
</html>
